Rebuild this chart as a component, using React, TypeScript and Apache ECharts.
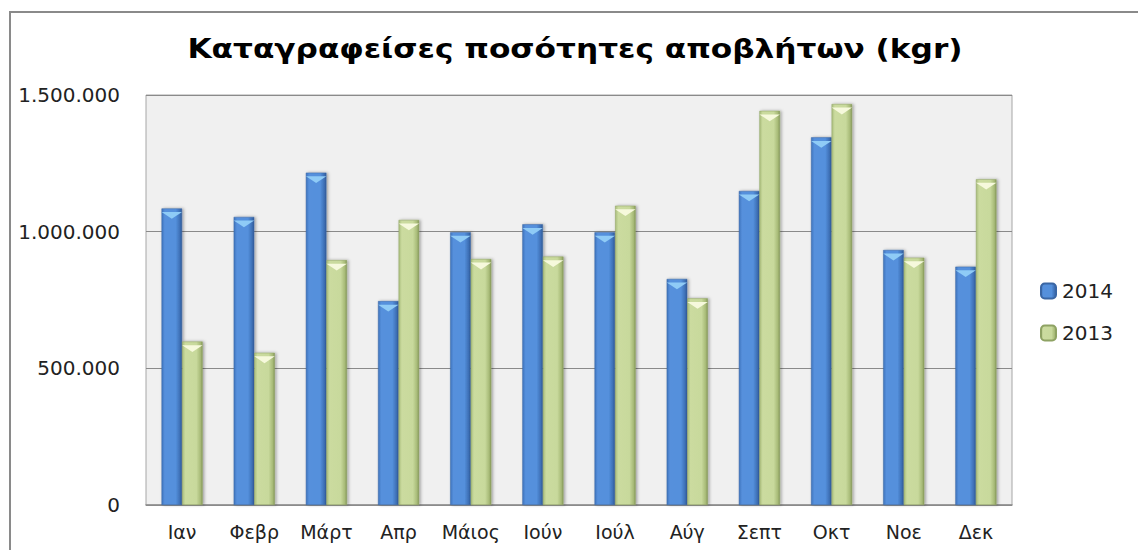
import React, { useEffect, useRef } from "react";
import * as echarts from "echarts";

const months = ["Ιαν", "Φεβρ", "Μάρτ", "Απρ", "Μάιος", "Ιούν", "Ιούλ", "Αύγ", "Σεπτ", "Οκτ", "Νοε", "Δεκ"];
const values2014 = [1085000, 1054000, 1216000, 746000, 998000, 1027000, 998000, 827000, 1149000, 1345000, 933000, 872000];
const values2013 = [598000, 557000, 896000, 1043000, 900000, 909000, 1095000, 756000, 1442000, 1467000, 905000, 1192000];
const yTicks = [0, 500000, 1000000, 1500000];
const titleText = "Καταγραφείσες ποσότητες αποβλήτων (kgr)";

const fmt = (v: number) => String(v).replace(/\B(?=(\d{3})+(?!\d))/g, ".");

const blueGrad = new echarts.graphic.LinearGradient(0, 0, 1, 0, [
  { offset: 0, color: "#3f74bd" },
  { offset: 0.15, color: "#5690dc" },
  { offset: 0.7, color: "#5490dc" },
  { offset: 0.9, color: "#3e70b6" },
  { offset: 1, color: "#2f5a98" },
]);
const greenGrad = new echarts.graphic.LinearGradient(0, 0, 1, 0, [
  { offset: 0, color: "#a9bd7c" },
  { offset: 0.15, color: "#cbdb9f" },
  { offset: 0.7, color: "#c8d99c" },
  { offset: 0.9, color: "#a8bb78" },
  { offset: 1, color: "#86995a" },
]);

export default function App() {
  const ref = useRef<HTMLDivElement>(null);
  useEffect(() => {
    if (!ref.current) return;
    const chart = echarts.init(ref.current, undefined, { renderer: "svg" });
    const common = {
      barGap: "0%",
      barCategoryGap: "43%",
    };
    const labelFont = { fontFamily: "DejaVu Sans", fontSize: 20, color: "#222" };
    chart.setOption({
      animation: false,
      backgroundColor: "#ffffff",
      legend: {
        data: ["2014", "2013"],
        orient: "vertical",
        left: 1040,
        top: 281,
        padding: 0,
        itemWidth: 15,
        itemHeight: 15,
        itemGap: 22,
        textStyle: { ...labelFont, padding: [0, 0, 0, 1] },
      },
      grid: {
        left: 146,
        top: 95,
        right: 126,
        bottom: 45,
        show: true,
        backgroundColor: "#f0f0f0",
        borderColor: "#a6a6a6",
        borderWidth: 1,
      },
      xAxis: {
        type: "category",
        data: months,
        axisTick: { show: false },
        axisLine: { lineStyle: { color: "#8c8c8c", width: 1.5 } },
        axisLabel: { ...labelFont, fontSize: 19, margin: 17, interval: 0 },
      },
      yAxis: {
        type: "value",
        min: yTicks[0],
        max: yTicks[yTicks.length - 1],
        interval: yTicks[1] - yTicks[0],
        axisLine: { show: false },
        axisTick: { show: false },
        splitLine: { lineStyle: { color: "#8a8a8a", width: 1 } },
        axisLabel: { ...labelFont, margin: 26, formatter: (v: number) => fmt(v) },
      },
      series: [
        {
          name: "2014",
          type: "bar",
          ...common,
          data: values2014,
          itemStyle: {
            color: blueGrad,
            borderColor: "#3a66a4",
            borderWidth: 0.5,
            shadowColor: "rgba(0,0,0,0.35)",
            shadowBlur: 3,
            shadowOffsetX: 1.5,
            shadowOffsetY: 0,
          },
        },
        {
          name: "2013",
          type: "bar",
          ...common,
          data: values2013,
          itemStyle: {
            color: greenGrad,
            borderColor: "#8ea263",
            borderWidth: 0.5,
            shadowColor: "rgba(0,0,0,0.35)",
            shadowBlur: 3,
            shadowOffsetX: 1.5,
            shadowOffsetY: 0,
          },
        },
        {
          name: "top2014",
          type: "pictorialBar",
          ...common,
          data: values2014,
          symbol: "triangle",
          symbolRotate: 180,
          symbolPosition: "end",
          symbolSize: ["100%", 7],
          symbolOffset: [0, "50%"],
          itemStyle: { color: "#8fcbf6" },
          z: 5,
        },
        {
          name: "top2013",
          type: "pictorialBar",
          ...common,
          data: values2013,
          symbol: "triangle",
          symbolRotate: 180,
          symbolPosition: "end",
          symbolSize: ["100%", 7],
          symbolOffset: [0, "50%"],
          itemStyle: { color: "#f6f9dc" },
          z: 5,
        },
      ],
      graphic: [
        {
          type: "polyline",
          shape: { points: [[10, 550], [10, 12], [1138, 12]] },
          style: { stroke: "#8a8a8a", lineWidth: 2, fill: "none" },
          silent: true,
        },
        {
          type: "text",
          x: 575,
          y: 49,
          scaleX: 1.2,
          silent: true,
          style: {
            text: titleText,
            fontFamily: "DejaVu Sans",
            fontSize: 26,
            fontWeight: "bold",
            fill: "#000",
            textAlign: "center",
            textVerticalAlign: "middle",
          },
        },
      ],
    });
    return () => chart.dispose();
  }, []);
  return <div ref={ref} style={{ position: "fixed", left: 0, top: 0, width: 1138, height: 550 }} />;
}
